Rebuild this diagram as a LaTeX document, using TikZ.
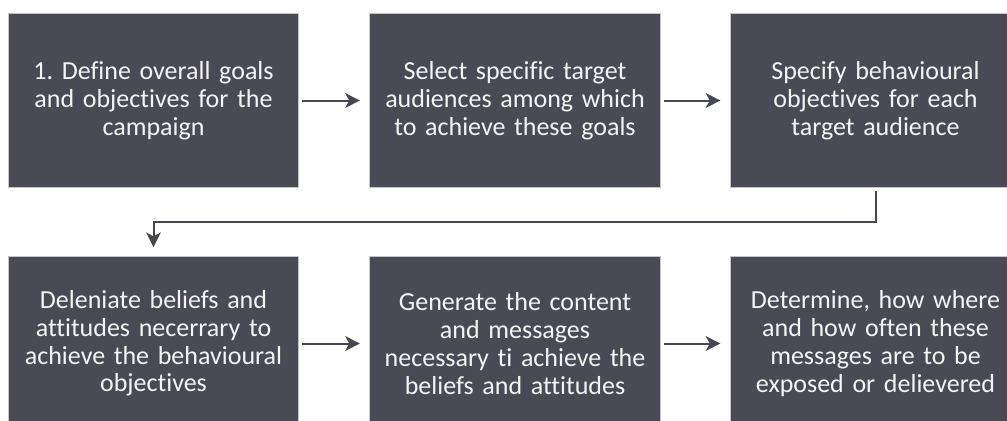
\documentclass[tikz,border=0pt]{standalone}
\usepackage{fontspec}
\setmainfont{Carlito}[Ligatures=NoCommon]
\usetikzlibrary{arrows.meta}
\definecolor{boxfill}{HTML}{4A4A54}
\definecolor{boxedge}{HTML}{C4C4C8}
\definecolor{linecol}{HTML}{474752}
\definecolor{txt}{HTML}{F4F4F4}
\frenchspacing
\tikzset{
  stepbox/.style={rectangle, fill=boxfill, draw=boxedge, line width=0.6pt,
    minimum width=218pt, minimum height=130pt, inner sep=0pt,
    text width=215pt, align=center, text=txt,
    font=\fontsize{19.5pt}{20.8pt}\selectfont},
  conn/.style={draw=linecol, line width=1.5pt,
    -{Stealth[length=11pt,width=11pt,inset=3pt]},
    shorten <=2.2pt, shorten >=7pt}
}
\begin{document}
\begin{tikzpicture}[x=0.75pt,y=-0.75pt]
\useasboundingbox (0,0) rectangle (1007,421);
\clip (0,0) rectangle (1007,421);
\node[stepbox] (b1) at (153.5,100.5) {1. Define overall goals\\and objectives for the\\campaign};
\node[stepbox] (b2) at (515,100.5) {Select specific target\\audiences among which\\to achieve these goals};
\node[stepbox] (b3) at (875.5,100.5) {Specify behavioural\\objectives for each\\target audience};
\node[stepbox] (b4) at (153.5,343.5) {Deleniate beliefs and\\attitudes necerrary to\\achieve the behavioural\\objectives};
\node[stepbox] (b5) at (515,343.5) {Generate the content\\and messages\\necessary ti achieve the\\beliefs and attitudes};
\node[stepbox] (b6) at (875.5,343.5) {Determine, how where\\and how often these\\messages are to be\\exposed or delievered};
\coordinate (mid) at (0,222);
\draw[conn] (b1) -- (b2);
\draw[conn] (b2) -- (b3);
\draw[conn] (b3.south) -- (b3.south |- mid) -| (b4.north);
\draw[conn] (b4) -- (b5);
\draw[conn] (b5) -- (b6);
\end{tikzpicture}
\end{document}
